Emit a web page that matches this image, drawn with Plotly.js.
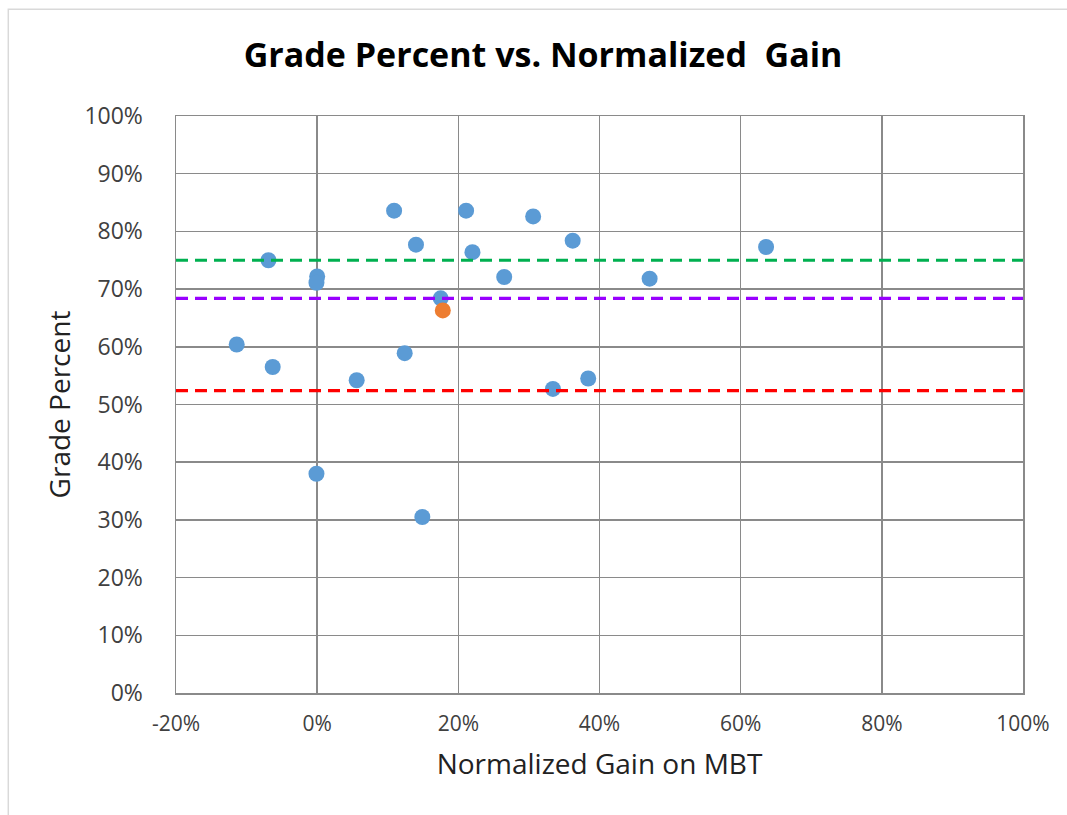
<!DOCTYPE html>
<html>
<head>
<meta charset="utf-8">
<script src="https://cdn.plot.ly/plotly-3.0.1.min.js"></script>
<style>html,body{margin:0;padding:0;background:#fff;}#chart{width:1067px;height:815px;}</style>
</head>
<body>
<div id="chart"></div>
<script>
// Normalized gain on MBT (%) and grade percent (%) per student
var gainBlue = [-11.4, -6.9, -6.3, 0.0, -0.1, -0.1, 5.6, 10.9, 12.4, 14.0, 14.9, 17.5, 21.1, 22.0, 26.5, 30.6, 33.4, 36.2, 38.4, 47.1, 63.6];
var gradeBlue = [60.4, 75.0, 56.5, 72.2, 71.1, 38.0, 54.2, 83.6, 58.9, 77.7, 30.5, 68.4, 83.6, 76.4, 72.1, 82.6, 52.7, 78.4, 54.5, 71.8, 77.3];
var gainOrange = [17.8];
var gradeOrange = [66.3];
// Reference lines (grade percent)
var refLevels = [75.0, 68.4, 52.4];
var refColors = ['#00B050', '#9900FF', '#FF0000'];
var xTicks = [-20, 0, 20, 40, 60, 80, 100];
var xTickText = ['-20%', '0%', '20%', '40%', '60%', '80%', '100%'];
var yTicks = [0, 10, 20, 30, 40, 50, 60, 70, 80, 90, 100];
var yTickText = ['0%', '10%', '20%', '30%', '40%', '50%', '60%', '70%', '80%', '90%', '100%'];

function pct(a){ return a.map(function(v){ return v/100; }); }

var traces = [
  {x: pct(gainBlue), y: pct(gradeBlue), mode: 'markers', type: 'scatter',
   marker: {color: '#5B9BD5', size: 16}, showlegend: false, hoverinfo: 'x+y'},
  {x: pct(gainOrange), y: pct(gradeOrange), mode: 'markers', type: 'scatter',
   marker: {color: '#ED7D31', size: 16}, showlegend: false, hoverinfo: 'x+y'}
];

var shapes = refLevels.map(function(v, i){
  return {type: 'line', xref: 'paper', yref: 'y', x0: 0, x1: 1, y0: v/100, y1: v/100,
          line: {color: refColors[i], width: 3.2, dash: '12px,7px'}, layer: 'above'};
});
// outer chart frame
shapes.push({type: 'rect', xref: 'paper', yref: 'paper', x0: -0.198, x1: 1.2, y0: -0.4, y1: 1.185,
             line: {color: '#d9d9d9', width: 1.5}, layer: 'below'});

var FONT = '"Open Sans", Lato, sans-serif';
var gridCol = '#8a8a8a';

var layout = {
  width: 1067, height: 815,
  margin: {l: 176, r: 44, t: 116, b: 122},
  paper_bgcolor: '#ffffff', plot_bgcolor: '#ffffff',
  title: {text: '<b>Grade Percent vs. Normalized  Gain</b>', x: 0.509, xanchor: 'center', y: 0.932, yanchor: 'middle',
          font: {family: FONT, size: 34, color: '#000000'}},
  xaxis: {range: [-0.2, 1.0], tickvals: pct(xTicks), ticktext: xTickText,
          tickfont: {family: FONT, size: 21, color: '#404040'},
          showgrid: true, gridcolor: gridCol, gridwidth: 1.5, zeroline: false,
          showline: true, linecolor: gridCol, linewidth: 1.5, mirror: true, ticks: '', ticklabelstandoff: 11,
          title: {text: 'Normalized Gain on MBT', font: {family: FONT, size: 28, color: '#222222'}, standoff: 18}},
  yaxis: {range: [0, 1.0], tickvals: pct(yTicks), ticktext: yTickText,
          tickfont: {family: FONT, size: 23, color: '#404040'},
          showgrid: true, gridcolor: gridCol, gridwidth: 1.5, zeroline: false,
          showline: true, linecolor: gridCol, linewidth: 1.5, mirror: true, ticks: '', ticklabelstandoff: 27,
          title: {text: 'Grade Percent', font: {family: FONT, size: 28, color: '#222222'}, standoff: 5}},
  shapes: shapes
};

Plotly.newPlot('chart', traces, layout, {displayModeBar: false, staticPlot: true});
</script>
</body>
</html>
